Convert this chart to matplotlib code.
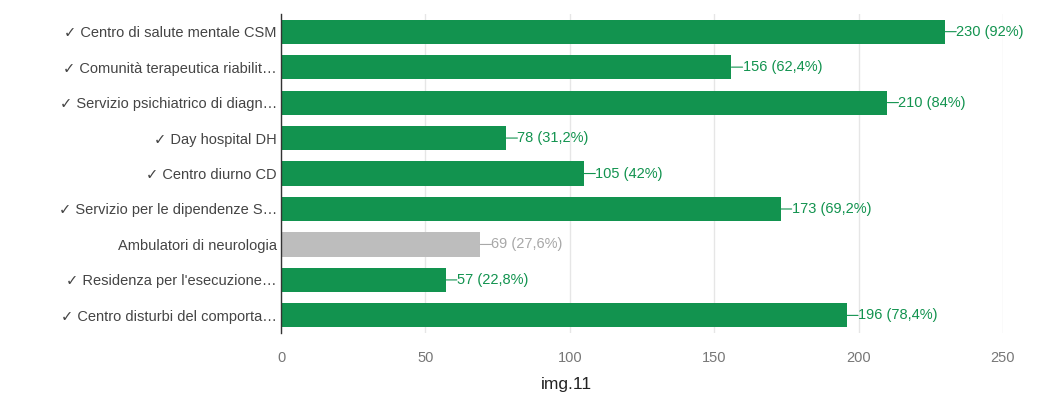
import matplotlib.pyplot as plt

plt.rcParams['font.family'] = ['Liberation Sans', 'DejaVu Sans']

categories = [
    "✓ Centro di salute mentale CSM",
    "✓ Comunità terapeutica riabilit…",
    "✓ Servizio psichiatrico di diagn…",
    "✓ Day hospital DH",
    "✓ Centro diurno CD",
    "✓ Servizio per le dipendenze S…",
    "Ambulatori di neurologia",
    "✓ Residenza per l'esecuzione…",
    "✓ Centro disturbi del comporta…",
]
counts = [230, 156, 210, 78, 105, 173, 69, 57, 196]
percents = ["92%", "62,4%", "84%", "31,2%", "42%", "69,2%", "27,6%", "22,8%", "78,4%"]
correct = [True, True, True, True, True, True, False, True, True]

green = '#12934f'
grey = '#bdbdbd'
colors = [green if c else grey for c in correct]
text_colors = [green if c else '#a8a8a8' for c in correct]

fig = plt.figure(figsize=(10.49, 3.98), dpi=100)
ax = fig.add_axes([0.268, 0.163, 0.688, 0.802])

y = list(range(len(categories)))
ax.barh(y, counts, height=0.68, color=colors, zorder=2)
ax.set_ylim(len(categories) - 0.5, -0.5)
ax.set_xlim(0, 250)
ax.set_xticks([0, 50, 100, 150, 200, 250])
ax.set_yticks(y)
ax.set_yticklabels(categories, fontsize=10.5, color='#444444')
ax.tick_params(axis='x', labelsize=10.5, labelcolor='#777777', length=0, pad=13)
ax.tick_params(axis='y', length=0, pad=3)
ax.grid(axis='x', color='#e6e6e6', linewidth=1, zorder=0)

for s in ['top', 'right', 'bottom']:
    ax.spines[s].set_visible(False)
ax.spines['left'].set_color('#333333')
ax.spines['left'].set_linewidth(1)
ax.spines['left'].set_zorder(3)

# value labels with a short leader line
for i, (v, p, tc) in enumerate(zip(counts, percents, text_colors)):
    ax.annotate('', xy=(v, i), xytext=(8, 0), textcoords='offset points',
                arrowprops=dict(arrowstyle='-', color=tc, lw=0.8,
                                shrinkA=0, shrinkB=0))
    ax.annotate(f"{v} ({p})", xy=(v, i), xytext=(8, 0),
                textcoords='offset points', va='center', ha='left',
                fontsize=10.5, color=tc, annotation_clip=False)

fig.text(0.54, 0.035, "img.11", ha='center', va='center', fontsize=12.5,
         color='#222222')

fig.savefig('out.png', dpi=100)
